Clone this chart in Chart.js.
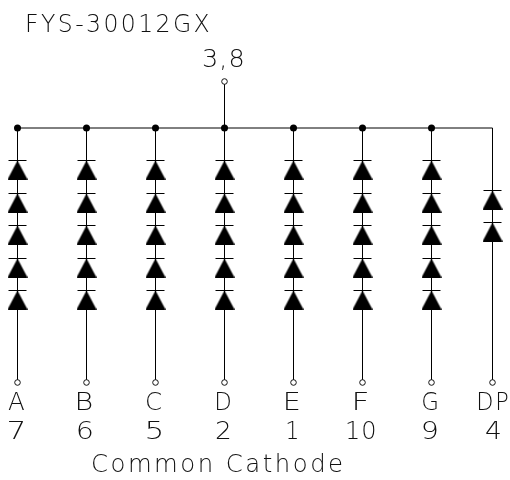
<!DOCTYPE html>
<html><head><meta charset="utf-8">
<style>html,body{margin:0;padding:0;background:#fff}canvas{display:block}</style>
<script src="https://cdn.jsdelivr.net/npm/chart.js@4/dist/chart.umd.min.js"></script>
</head><body>
<canvas id="c" width="510" height="480" style="width:510px;height:480px"></canvas>
<script>
const segmentNames = ["A","B","C","D","E","F","G","DP"];
const pinNumbers = ["7","6","5","2","1","10","9","4"];
const columnX = [17.5,86.5,155.5,224.5,293.5,362.5,431.5,492.5];
const busY = 128;
const pinY = 382.5;
const commonPinY = 81.5;
const commonPinLabel = "3,8";
const partName = "FYS-30012GX";
const footerText = "Common Cathode";
const cathodeBarsSegment = [160.5,193.5,225.5,258.5,290.5];
const cathodeBarsDP = [190.5,222.5];
const diodeLength = 19;

function triangleSprite(w,h){
  const s=document.createElement('canvas');s.width=w;s.height=h;
  const g=s.getContext('2d');g.fillStyle='#000';g.beginPath();
  g.moveTo(w/2,0);g.lineTo(w,h);g.lineTo(0,h);g.closePath();g.fill();
  return s;
}
const tri=triangleSprite(20,diodeLength);
const datasets=[];
const line=(data,w=1)=>datasets.push({type:'scatter',showLine:true,data,borderColor:'#000',borderWidth:w,pointRadius:0,fill:false,order:5});

columnX.forEach(x=>line([{x,y:busY},{x,y:pinY}]));
line([{x:columnX[0],y:busY},{x:columnX[7],y:busY}]);
line([{x:columnX[3],y:commonPinY},{x:columnX[3],y:busY}]);

const bars=[],tris=[];
columnX.forEach((x,i)=>{
  (i===7?cathodeBarsDP:cathodeBarsSegment).forEach(y=>{
    bars.push({x,y});
    tris.push({x,y:y+diodeLength/2});
  });
});
datasets.push({type:'scatter',data:tris,pointStyle:tri,pointRadius:10,order:2,showLine:false});
datasets.push({type:'scatter',data:bars,pointStyle:'line',pointRadius:9,borderColor:'#000',pointBorderColor:'#000',pointBorderWidth:1,order:1,showLine:false});
datasets.push({type:'scatter',data:columnX.slice(0,7).map(x=>({x,y:busY})),pointStyle:'circle',pointRadius:3.5,pointBackgroundColor:'#000',pointBorderColor:'#000',pointBorderWidth:0,order:1,showLine:false});
datasets.push({type:'scatter',data:[...columnX.map(x=>({x,y:pinY})),{x:columnX[3],y:commonPinY}],pointStyle:'circle',pointRadius:2.8,pointBackgroundColor:'#fff',pointBorderColor:'#111',pointBorderWidth:1,order:0,showLine:false});

function drawFit(ctx,text,x0,x1,baseline,size,spacing){
  ctx.save();
  ctx.font='200 '+size+'px "DejaVu Sans"';
  ctx.letterSpacing=spacing+'px';
  ctx.textAlign='left';ctx.textBaseline='alphabetic';ctx.fillStyle='#111';
  const m=ctx.measureText(text);
  const natural=m.actualBoundingBoxRight+m.actualBoundingBoxLeft;
  ctx.translate(x0,baseline);
  ctx.scale((x1-x0)/natural,1);
  ctx.fillText(text,m.actualBoundingBoxLeft,0);
  ctx.restore();
}
const textPlugin={id:'texts',afterDatasetsDraw(chart){
  const {ctx,scales:{x,y}}=chart;
  const put=(t,x0,x1,b,sp)=>drawFit(ctx,t,x.getPixelForValue(x0),x.getPixelForValue(x1),y.getPixelForValue(b),24.5,sp);
  put(partName,27,209,32,2.5);
  put(commonPinLabel,203,243,67,1);
  put(footerText,93,342,472,2.5);
  segmentNames.forEach((n,i)=>{
    const cx=i===7?493:columnX[i]-1.5;
    const hw=n==='DP'?15:(n==='A'?8:7);
    put(n,cx-hw,cx+hw,410,n==='DP'?2:0);
    const p=pinNumbers[i];
    const hp=p.length>1?14:(p==='1'?5:7);
    put(p,cx-hp,cx+hp,439,p.length>1?1:0);
  });
}};
new Chart(document.getElementById('c'),{
  data:{datasets},
  options:{responsive:false,animation:false,devicePixelRatio:1,
    layout:{padding:0,autoPadding:false},
    plugins:{legend:{display:false},tooltip:{enabled:false},title:{display:false}},
    scales:{x:{type:'linear',min:0,max:510,display:false},y:{type:'linear',min:0,max:480,reverse:true,display:false}}
  },
  plugins:[textPlugin]
});
</script>
</body></html>
